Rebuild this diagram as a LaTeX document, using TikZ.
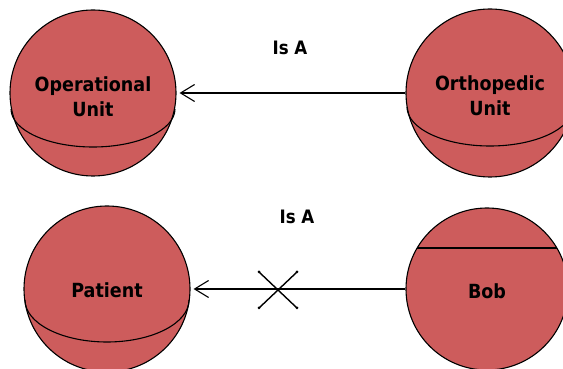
\documentclass[tikz,border=0pt]{standalone}
\usepackage{fontspec}
\setmainfont{DejaVu Sans Condensed}
\usetikzlibrary{arrows.meta,calc}
\definecolor{objfill}{RGB}{205,92,92}
\tikzset{
  obj/.style={circle,draw=black,line width=1.1pt,fill=objfill,minimum size=#1,inner sep=0pt},
  objtext/.style={font=\fontsize{19.5}{25}\selectfont\bfseries,align=center,inner sep=0pt},
  seam/.style={draw=black,line width=1.1pt},
  isa/.style={draw=black,line width=1.1pt,-{Straight Barb[length=14pt,width=17pt,line width=1.1pt]}},
  lbl/.style={font=\fontsize{18.5}{22}\selectfont\bfseries},
  crossarm/.style={draw=black,line width=1.4pt}
}
\begin{document}
\begin{tikzpicture}[x=1pt,y=1pt]
\useasboundingbox (0,0) rectangle (563,369);
\clip (0,0) rectangle (563,369);

% upper pair
\node[obj=166pt] (op) at (93,276) {};
\node[obj=168pt] (ortho) at (490,276) {};
\draw[seam] (11,260) arc[start angle=180,end angle=360,x radius=82,y radius=38];
\draw[seam] (407,262) arc[start angle=180,end angle=360,x radius=83,y radius=39];
\node[objtext] (optext) at ($(op.center)+(0,-4)$) {Operational\\Unit};
\node[objtext] (orthotext) at ($(ortho.center)+(0,-3)$) {Orthopedic\\Unit};

% lower pair
\node[obj=166pt] (patient) at (107,80) {};
\node[obj=162pt] (bob) at (487,80) {};
\draw[seam] (25,69) arc[start angle=180,end angle=360,x radius=82,y radius=42];
\draw[seam] ($(bob.center)+(-70,41)$) -- ($(bob.center)+(70,41)$);
\node[objtext] (patienttext) at ($(patient.center)+(0,-1)$) {Patient};
\node[objtext] (bobtext) at ($(bob.center)+(0,-2)$) {Bob};

% generalisation links
\draw[isa,shorten >=3pt] (ortho.west) -- (op.east);
\node[lbl] (isa1) at (290,321) {Is A};
\draw[isa,shorten >=3pt] (bob.west) -- (patient.east);
\node[lbl] (isa2) at (297,152) {Is A};

% cross marking the lower link as invalid
\coordinate (cross) at (278,79);
\draw[crossarm] ($(cross)+(-19,18)$) -- ($(cross)+(19,-18)$);
\draw[crossarm] ($(cross)+(19,18)$) -- ($(cross)+(-19,-18)$);
\foreach \dx/\dy in {-19/18,19/-18,19/18,-19/-18}
  \fill[black] ($(cross)+(\dx,\dy)$) circle[radius=1.5pt];
\end{tikzpicture}
\end{document}
